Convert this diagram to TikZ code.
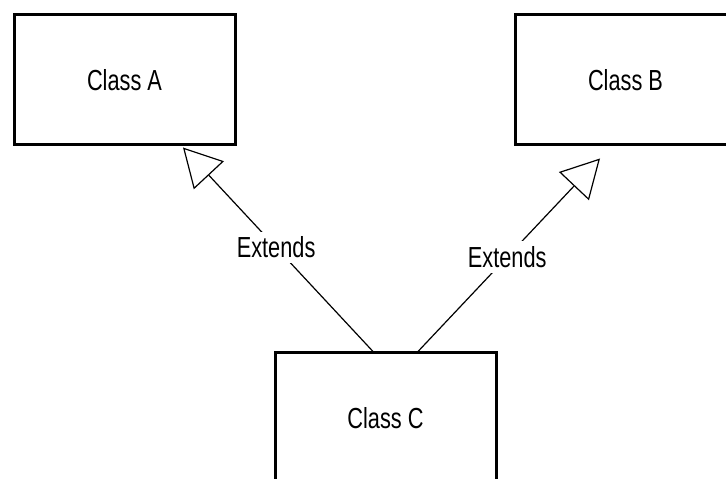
\documentclass[tikz,border=0pt]{standalone}
\usepackage{fontspec}
\setmainfont{Liberation Sans}
\usepackage{graphicx}
\usepackage{tikz}
\usetikzlibrary{arrows.meta,calc,positioning}

% condensed label text
\newcommand{\narrowtxt}[1]{\scalebox{0.75}[1]{#1}}

\begin{document}
\begin{tikzpicture}[
    x=1pt, y=1pt,
    classbox/.style={rectangle, draw, line width=3pt, minimum width=221pt, minimum height=130pt,
        font=\fontsize{29}{34}\selectfont},
    extends/.style={-{Triangle[open, length=38pt, width=41pt]}, line width=1.2pt},
    lbl/.style={fill=white, inner sep=5pt, font=\fontsize{29}{34}\selectfont}
]
    \useasboundingbox (0,0) rectangle (726,479);

    \node[classbox] (classa) at (124.5,399) {\narrowtxt{Class A}};
    \node[classbox] (classb) at (625.5,399) {\narrowtxt{Class B}};
    \node[classbox] (classc) at (385.5,61) {\narrowtxt{Class C}};

    \draw[extends] ($(classc.north)+(-12.5,0)$) -- node[lbl, pos=0.51] {\narrowtxt{Extends}} ($(classa.south)+(58.5,-1)$);
    \draw[extends] ($(classc.north)+(32.5,0)$) -- node[lbl, pos=0.49] {\narrowtxt{Extends}} ($(classb.south)+(-25.5,-12)$);
\end{tikzpicture}
\end{document}
